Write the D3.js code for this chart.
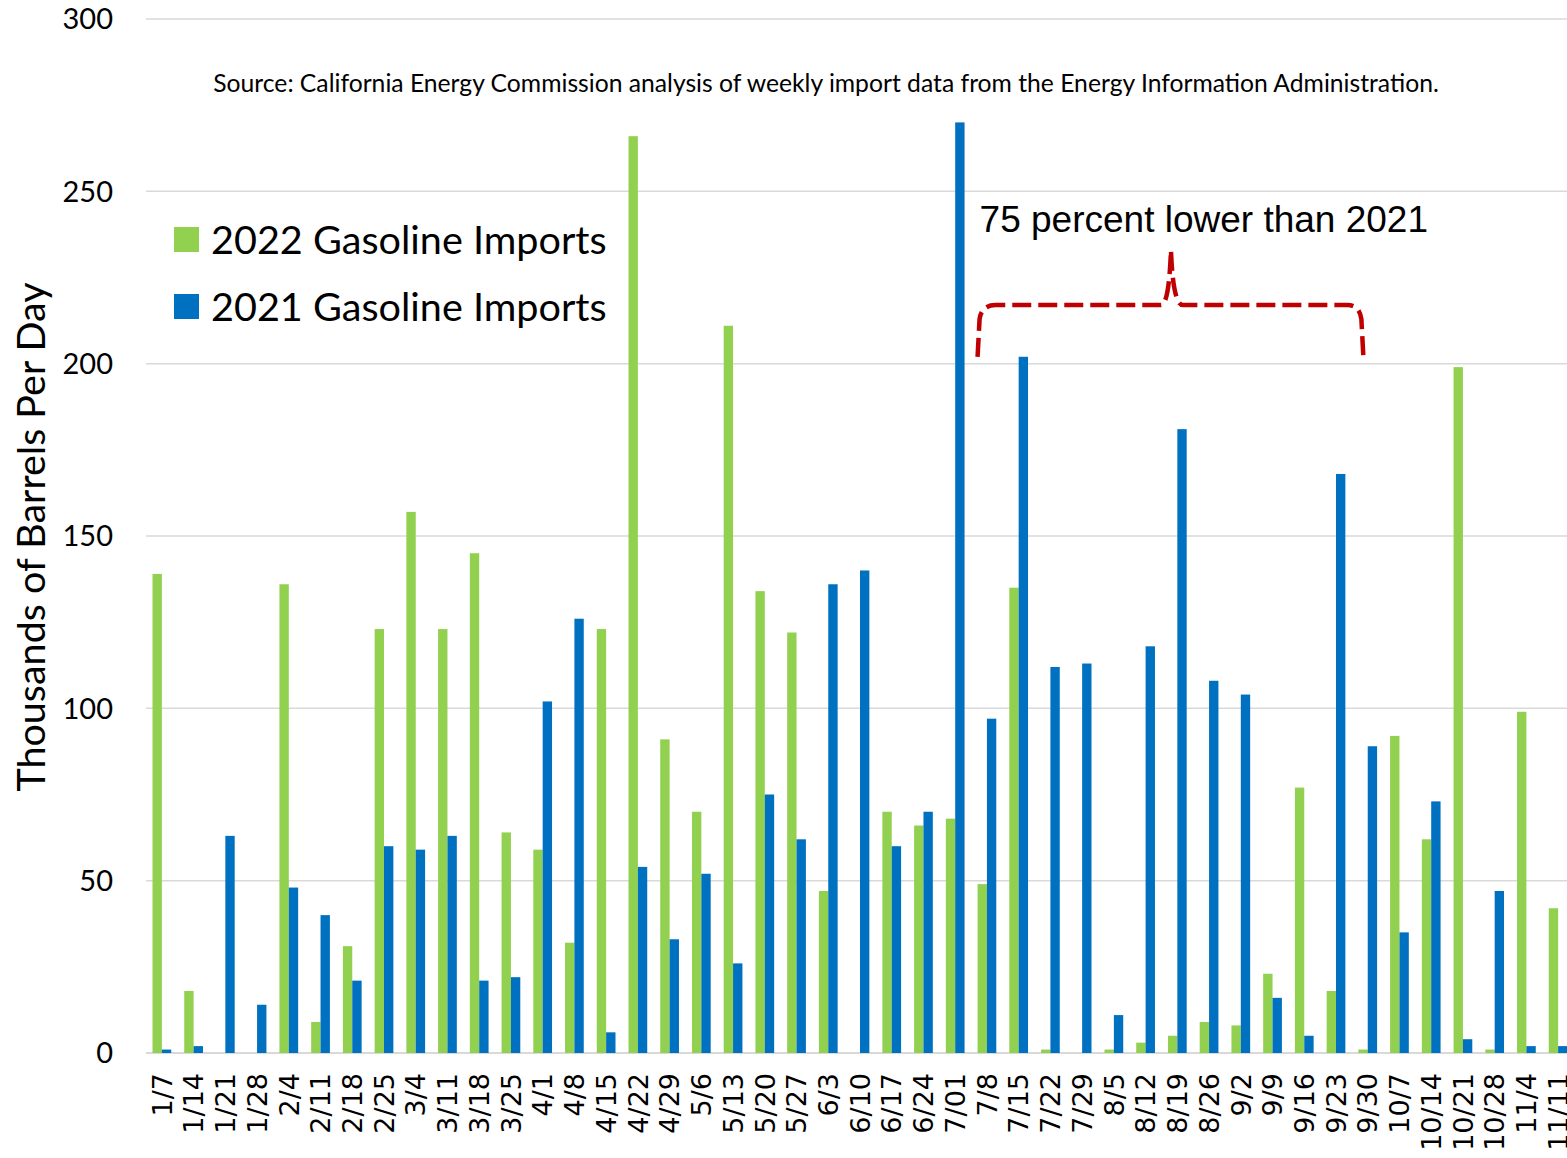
<!DOCTYPE html>
<meta charset="utf-8">
<title>Gasoline Imports</title>
<style>
  body { margin: 0; background: #fff; }
  svg { display: block; }
</style>
<svg id="chart" width="1567" height="1158"></svg>
<script src="https://cdn.jsdelivr.net/npm/d3@7/dist/d3.min.js"></script>
<script>

var weeks = ["1/7", "1/14", "1/21", "1/28", "2/4", "2/11", "2/18", "2/25",
             "3/4", "3/11", "3/18", "3/25", "4/1", "4/8", "4/15", "4/22",
             "4/29", "5/6", "5/13", "5/20", "5/27", "6/3", "6/10", "6/17",
             "6/24", "7/01", "7/8", "7/15", "7/22", "7/29", "8/5", "8/12",
             "8/19", "8/26", "9/2", "9/9", "9/16", "9/23", "9/30", "10/7",
             "10/14", "10/21", "10/28", "11/4", "11/11"];

var imports2022 = [139, 18, 0, 0, 136, 9, 31, 123,
                   157, 123, 145, 64, 59, 32, 123, 266,
                   91, 70, 211, 134, 122, 47, 0, 70,
                   66, 68, 49, 135, 1, 0, 1, 3,
                   5, 9, 8, 23, 77, 18, 1, 92,
                   62, 199, 1, 99, 42];

var imports2021 = [1, 2, 63, 14, 48, 40, 21, 60,
                   59, 63, 21, 22, 102, 126, 6, 54,
                   33, 52, 26, 75, 62, 136, 140, 60,
                   70, 270, 97, 202, 112, 113, 11, 118,
                   181, 108, 104, 16, 5, 168, 89, 35,
                   73, 4, 47, 2, 2];

var seriesNames = ["2022 Gasoline Imports", "2021 Gasoline Imports"];
var seriesColors = ["#92d050", "#0070c0"];
var yTicks = [0, 50, 100, 150, 200, 250, 300];

var calibri = "Lato, 'Open Sans', sans-serif";

var svg = d3.select("#chart");

var plotLeft = 146, plotRight = 1574, plotTop = 19, plotBottom = 1053;

var x0 = d3.scaleBand()
    .domain(weeks)
    .range([plotLeft, plotRight])
    .paddingInner(0.41)
    .paddingOuter(0.205);

var x1 = d3.scaleBand()
    .domain([0, 1])
    .range([0, x0.bandwidth()]);

var y = d3.scaleLinear()
    .domain([0, 300])
    .range([plotBottom, plotTop]);

// gridlines
svg.append("g")
  .selectAll("line")
  .data(yTicks)
  .join("line")
    .attr("x1", plotLeft)
    .attr("x2", 1567)
    .attr("y1", function(d) { return y(d); })
    .attr("y2", function(d) { return y(d); })
    .attr("stroke", "#d9d9d9")
    .attr("stroke-width", function(d) { return d == 0 ? 2 : 1.5; });

// y labels
svg.append("g")
  .selectAll("text")
  .data(yTicks)
  .join("text")
    .attr("x", 113)
    .attr("y", function(d) { return y(d); })
    .attr("dy", "0.36em")
    .attr("text-anchor", "end")
    .style("font-family", calibri)
    .style("font-size", "29px")
    .text(function(d) { return d; });

// bars
var rows = weeks.map(function(w, i) { return {week: w, vals: [imports2022[i], imports2021[i]]}; });

svg.append("g")
  .selectAll("g")
  .data(rows)
  .join("g")
    .attr("transform", function(d) { return "translate(" + x0(d.week) + ",0)"; })
  .selectAll("rect")
  .data(function(d) { return d.vals.map(function(v, k) { return {k: k, v: v}; }); })
  .join("rect")
    .attr("x", function(d) { return x1(d.k); })
    .attr("width", x1.bandwidth())
    .attr("y", function(d) { return y(d.v); })
    .attr("height", function(d) { return y(0) - y(d.v); })
    .attr("fill", function(d) { return seriesColors[d.k]; });

// x labels
svg.append("g")
  .selectAll("text")
  .data(weeks)
  .join("text")
    .attr("transform", function(d) {
      return "translate(" + (x0(d) + x0.bandwidth() / 2) + ",1073) rotate(-90)";
    })
    .attr("dy", "0.36em")
    .attr("text-anchor", "end")
    .style("font-family", "'DejaVu Sans', sans-serif")
    .style("font-size", "27px")
    .text(function(d) { return d; });

// y title
svg.append("text")
  .attr("transform", "translate(31," + ((plotTop + plotBottom) / 2 + 1) + ") rotate(-90)")
  .attr("dy", "0.35em")
  .attr("text-anchor", "middle")
  .style("font-family", calibri)
  .style("font-size", "39.5px")
  .text("Thousands of Barrels Per Day");

// source note
svg.append("text")
  .attr("x", 826)
  .attr("y", 92)
  .attr("text-anchor", "middle")
  .style("font-family", calibri)
  .style("font-size", "24.7px")
  .text("Source: California Energy Commission analysis of weekly import data from the Energy Information Administration.");

// legend
var legend = svg.append("g").attr("transform", "translate(174,227)");
seriesNames.forEach(function(name, i) {
  legend.append("rect")
    .attr("x", 0)
    .attr("y", i * 67)
    .attr("width", 25)
    .attr("height", 25)
    .attr("fill", seriesColors[i]);
  legend.append("text")
    .attr("x", 37)
    .attr("y", i * 67 + 12.5)
    .attr("dy", "0.36em")
    .style("font-family", calibri)
    .style("font-size", "39.6px")
    .text(name);
});

// annotation: bracket over 7/8 .. 9/30
var bl = x0("7/8"), br = x0("9/30") + 5;
var bm = x0("8/19") + 3;
var yb = y(202), yh = y(217), yp = y(233);
var bracket = d3.path();
bracket.moveTo(bl, yb);
bracket.lineTo(bl + 2, yh + 14);
bracket.quadraticCurveTo(bl + 4, yh, bl + 18, yh);
bracket.lineTo(bm - 10, yh);
bracket.quadraticCurveTo(bm - 2, yh, bm, yp);
bracket.quadraticCurveTo(bm + 2, yh, bm + 12, yh);
bracket.lineTo(br - 16, yh);
bracket.quadraticCurveTo(br - 4, yh, br - 2, yh + 14);
bracket.lineTo(br, yb);

svg.append("path")
  .attr("d", bracket.toString())
  .attr("fill", "none")
  .attr("stroke", "#c00000")
  .attr("stroke-width", 4.5)
  .attr("stroke-dasharray", "19,7");

svg.append("text")
  .attr("x", x0("7/8") + 2)
  .attr("y", y(238.2))
  .style("font-family", "'Liberation Sans', Arial, sans-serif")
  .style("font-size", "37px")
  .text("75 percent lower than 2021");

</script>
